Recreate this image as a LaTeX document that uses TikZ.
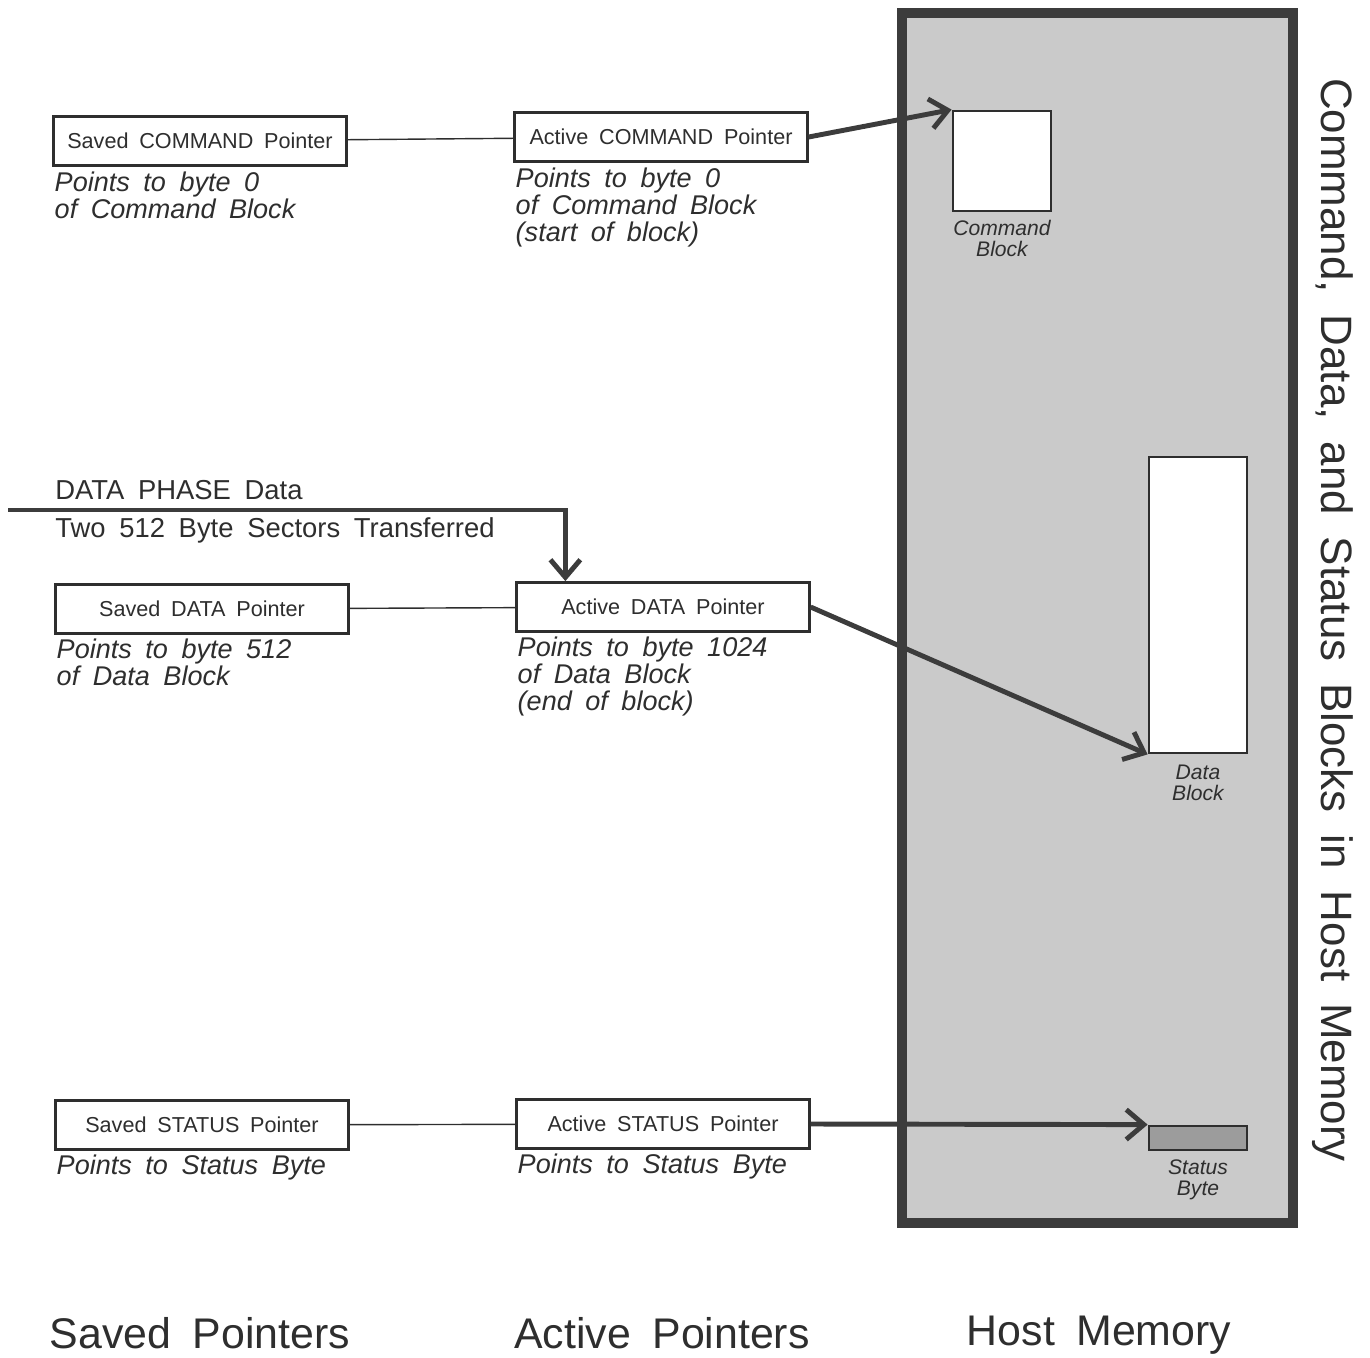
\documentclass[tikz,border=0pt]{standalone}
\usepackage{fontspec}
\setmainfont{Liberation Sans}[WordSpace=1.8]
\usetikzlibrary{calc, arrows.meta}

\definecolor{ink}{HTML}{2E2E2E}
\definecolor{rim}{HTML}{3C3C3C}
\definecolor{memfill}{HTML}{CACACA}
\definecolor{bytefill}{HTML}{9C9C9C}

\tikzset{
    ptrbox/.style={draw=ink, line width=1.6pt, fill=white, inner sep=0pt,
        minimum width=5.85cm, minimum height=0.98cm, text=ink,
        font=\fontsize{12.3}{14}\selectfont},
    note/.style={anchor=north west, inner sep=0pt, align=left, text=ink,
        font=\fontsize{15.4}{15.4}\selectfont\itshape},
    blk/.style={draw=ink, line width=1.6pt, fill=white, inner sep=0pt},
    blklabel/.style={anchor=north, inner sep=0pt, align=center, text=ink,
        font=\fontsize{12}{12}\selectfont\itshape},
    link/.style={draw=ink, line width=0.8pt},
    ptr/.style={draw=rim, line width=2.8pt,
        -{Straight Barb[length=10pt, width=17pt]}},
    phasetext/.style={anchor=west, inner sep=0pt, text=ink,
        font=\fontsize{15.6}{16}\selectfont},
    colhead/.style={text=ink, font=\fontsize{24.4}{26}\selectfont}
}

\begin{document}
\begin{tikzpicture}[x=0.02cm, y=-0.02cm]
    \useasboundingbox (0,0) rectangle (1370,1357);

    % host memory column
    \draw[line width=5.7pt, draw=rim, fill=memfill] (902,13) rectangle (1293,1223);
    \node[blk, minimum width=1.96cm, minimum height=2cm] (cmdblk) at (1002,161) {};
    \node[blklabel, yshift=-0.14cm] (cmdlbl) at (cmdblk.south) {Command\\Block};
    \node[blk, minimum width=1.96cm, minimum height=5.92cm] (datablk) at (1198,605) {};
    \node[blklabel, yshift=-0.2cm] (datalbl) at (datablk.south) {Data\\Block};
    \node[blk, fill=bytefill, minimum width=1.96cm, minimum height=0.48cm] (statbyte) at (1198,1138) {};
    \node[blklabel, yshift=-0.16cm] (statlbl) at (statbyte.south) {Status\\Byte};

    % command pointers
    \node[ptrbox] (savcmd) at (200,141) {Saved COMMAND Pointer};
    \node[ptrbox] (actcmd) at (661,137) {Active COMMAND Pointer};
    \node[note] (savcmdn) at ($(savcmd.south west)+(2,5)$) {Points to byte 0\\of Command Block};
    \node[note] (actcmdn) at ($(actcmd.south west)+(2,5)$) {Points to byte 0\\of Command Block\\(start of block)};
    \draw[link] (savcmd) -- (actcmd);
    \draw[ptr] (actcmd.east) -- (cmdblk.north west);

    % data pointers
    \node[ptrbox] (savdata) at (202,609) {Saved DATA Pointer};
    \node[ptrbox] (actdata) at (663,607) {Active DATA Pointer};
    \node[note] (savdatan) at ($(savdata.south west)+(2,4)$) {Points to byte 512\\of Data Block};
    \node[note] (actdatan) at ($(actdata.south west)+(2,4)$) {Points to byte 1024\\of Data Block\\(end of block)};
    \draw[link] (savdata) -- (actdata);
    \draw[ptr] (actdata.east) -- (datablk.south west);

    % data phase input
    \coordinate (din) at (8,510);
    \draw[ptr] (din) -| ($(actdata.north west)+(50,0)$);
    \node[phasetext] (phase) at (55,490) {DATA PHASE Data};
    \node[phasetext] (sectors) at (55,530) {Two 512 Byte Sectors Transferred};

    % status pointers
    \node[ptrbox] (savstat) at (202,1125) {Saved STATUS Pointer};
    \node[ptrbox] (actstat) at (663,1124) {Active STATUS Pointer};
    \node[note] (savstatn) at ($(savstat.south west)+(2,4)$) {Points to Status Byte};
    \node[note] (actstatn) at ($(actstat.south west)+(2,4)$) {Points to Status Byte};
    \draw[link] (savstat) -- (actstat);
    \draw[ptr] (actstat.east) -- (statbyte.north west);

    % titles
    \node[colhead, font=\fontsize{25}{26}\selectfont, rotate=-90] (title) at (1333,620) {Command, Data, and Status Blocks in Host Memory};
    \node[colhead] (savhead) at (200,1333) {Saved Pointers};
    \node[colhead] (acthead) at (662,1333) {Active Pointers};
    \node[colhead] (memhead) at (1099,1335) {Host Memory};
\end{tikzpicture}
\end{document}
